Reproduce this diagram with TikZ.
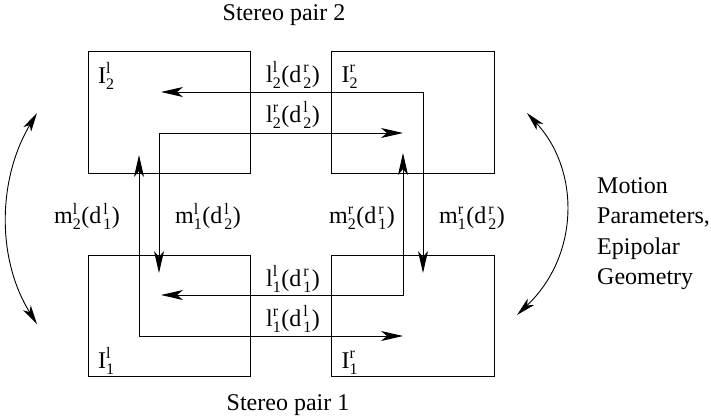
\documentclass[tikz,border=0pt]{standalone}
\usepackage{fontspec}
\setmainfont{Liberation Serif}
\usetikzlibrary{arrows.meta}
% small upright indices for the image/line labels
\newcommand\idxfont{\fontsize{16}{16}\selectfont}
\newcommand\ssp[2]{$_{\hbox{\idxfont #1}}^{\hbox{\idxfont #2}}$}
\newcommand\dsp[2]{\kern2pt\ssp{#1}{#2}}
\begin{document}
\begin{tikzpicture}[x=1pt,y=-1pt,
  font=\fontsize{24}{30}\selectfont,
  frame/.style={draw, line width=0.9pt, minimum width=162.5pt,
    minimum height=121.5pt, inner sep=0pt},
  link/.style={line width=0.9pt,
    {Stealth[length=22pt,width=10pt,inset=6pt]}-{Stealth[length=22pt,width=10pt,inset=6pt]}},
  swing/.style={line width=0.9pt,
    {Stealth[length=19pt,width=9pt,inset=5pt]}-{Stealth[length=19pt,width=9pt,inset=5pt]}},
  lab/.style={inner sep=0pt, anchor=base}]

\useasboundingbox (0,0) rectangle (711,418);

% the four image frames
\node[frame] (L2) at (169.5,112.5) {};
\node[frame] (R2) at (413,112.5) {};
\node[frame] (L1) at (169.5,316) {};
\node[frame] (R1) at (413,316) {};

% corners and end points of the correspondence links
\coordinate (c2r) at (423,92);  \coordinate (t2l) at (161,92);  \coordinate (t1r) at (423,273);
\coordinate (c2l) at (159,133); \coordinate (t2r) at (403,133); \coordinate (t1l) at (159,273);
\coordinate (c1l) at (139,336); \coordinate (u2l) at (139,155); \coordinate (u1r) at (403,336);
\coordinate (c1r) at (403,295); \coordinate (u1l) at (161,295); \coordinate (u2r) at (403,153);

\draw[link] (t2l) -- (c2r) -- (t1r);
\draw[link] (t1l) -- (c2l) -- (t2r);
\draw[link] (u2l) -- (c1l) -- (u1r);
\draw[link] (u1l) -- (c1r) -- (u2r);

% motion arcs between the two stereo pairs
\coordinate (la) at (37,113);  \coordinate (lb) at (37,324);
\coordinate (ra) at (527,113); \coordinate (rb) at (517,315);
\draw[swing] (la) .. controls (-3,180) and (-3,260) .. (lb);
\draw[swing] (ra) .. controls (580,170) and (580,255) .. (rb);

% titles
\node[lab] (s2) at (284,20.5) {Stereo pair 2};
\node[lab] (s1) at (288,410) {Stereo pair 1};

% image names
\node[lab, anchor=base west] (i2l) at (98,83) {I\ssp{2}{l}};
\node[lab, anchor=base west] (i2r) at (341.5,82) {I\ssp{2}{r}};
\node[lab, anchor=base west] (i1l) at (98,368) {I\ssp{1}{l}};
\node[lab, anchor=base west] (i1r) at (341.5,368) {I\ssp{1}{r}};

% epipolar line labels
\node[lab] (e2l) at (293,82) {l\ssp{2}{l}(d\dsp{2}{r})};
\node[lab] (e2r) at (293,122) {l\ssp{2}{r}(d\dsp{2}{l})};
\node[lab] (e1l) at (293,286) {l\ssp{1}{l}(d\dsp{1}{r})};
\node[lab] (e1r) at (293,326) {l\ssp{1}{r}(d\dsp{1}{l})};

% motion line labels
\node[lab] (m2l) at (87,223.5) {m\ssp{2}{l}(d\dsp{1}{l})};
\node[lab] (m1l) at (208,223.5) {m\ssp{1}{l}(d\dsp{2}{l})};
\node[lab] (m2r) at (362,223.5) {m\ssp{2}{r}(d\dsp{1}{r})};
\node[lab] (m1r) at (472,223.5) {m\ssp{1}{r}(d\dsp{2}{r})};

% side caption
\node[lab, anchor=base west] (mo1) at (597,193) {Motion};
\node[lab, anchor=base west] (mo2) at (597,223.5) {Parameters,};
\node[lab, anchor=base west] (mo3) at (597,254) {Epipolar};
\node[lab, anchor=base west] (mo4) at (597,284.5) {Geometry};
\end{tikzpicture}
\end{document}
